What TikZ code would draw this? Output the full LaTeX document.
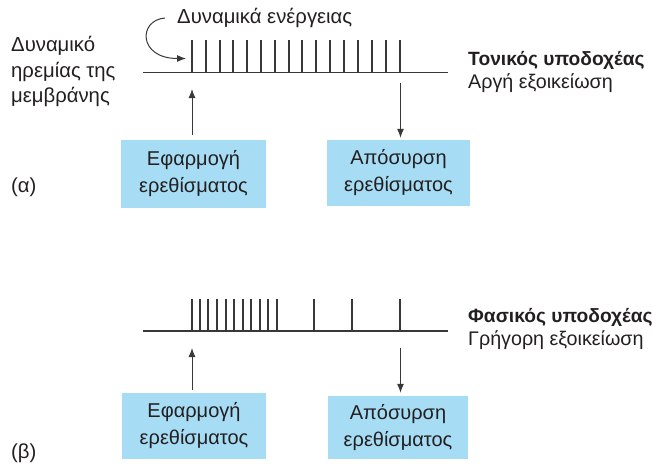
\documentclass[tikz,border=0pt]{standalone}
\usepackage{fontspec}
\setmainfont{Liberation Sans}
\usetikzlibrary{arrows.meta}
\definecolor{ink}{HTML}{231F20}
\definecolor{boxblue}{HTML}{A6DCF4}
\definecolor{linegray}{HTML}{383838}
\newcommand{\boldlab}[1]{{\fontsize{19.2}{22.5}\selectfont\bfseries #1}}
\begin{document}
\begin{tikzpicture}[x=1pt,y=-1pt,
  every node/.style={text=ink, inner sep=0pt},
  txt/.style={font=\fontsize{20.3}{25.5}\selectfont, align=left, anchor=west},
  rlab/.style={font=\fontsize{19.7}{22.5}\selectfont, align=left, anchor=west},
  stimbox/.style={fill=boxblue, draw=none, align=center, minimum width=145pt, minimum height=68pt,
                  font=\fontsize{20}{27}\selectfont},
  arr/.style={draw=linegray, line width=1pt, -{Latex[length=9pt,width=7pt]}},
  spike/.style={draw=linegray, line width=1.8pt},
  baseln/.style={draw=linegray, line width=1.5pt}]
\useasboundingbox (0,0) rectangle (652,463);

% ---------- (a) ----------
\node[txt] (rest) at (11,71.5) {Δυναμικό\\ηρεμίας της\\μεμβράνης};
\node[txt] (ap) at (177,18) {Δυναμικά ενέργειας};
\node[txt] (alpha) at (11,187) {(α)};
\node[rlab] (tonic) at (468,72) {\boldlab{Τονικός υποδοχέας}\\Αργή εξοικείωση};

\coordinate (lineAL) at (143,72.5);
\coordinate (lineAR) at (448,72.5);
\draw[baseln] (lineAL) -- (lineAR);
\foreach \x in {192,206,220,233,247,261,275,289,302,316,330,344,358,372,386,400} {
  \draw[spike] (\x,72.5) -- (\x,40);
}
\coordinate (firstSpike) at (186,58.5);
\draw[arr] (ap.west) ++(-12,0) coordinate (apStart)
  .. controls (138,20) and (138,58.5) .. (firstSpike);

\node[stimbox, minimum width=145pt, minimum height=68pt] (applyA) at (193.5,174) {Εφαρμογή\\ερεθίσματος};
\node[stimbox, minimum width=143pt, minimum height=66pt] (removeA) at (398.5,173) {Απόσυρση\\ερεθίσματος};

\coordinate (aTipA) at (192,89);
\coordinate (rTopA) at (400.5,83);
\draw[arr, shorten <=5pt] (applyA.north -| aTipA) -- (aTipA);
\draw[arr, shorten >=2pt] (rTopA) -- (removeA.north -| rTopA);

% ---------- (b) ----------
\node[txt] (beta) at (11,453) {(β)};
\node[rlab] (phasic) at (468,329) {\boldlab{Φασικός υποδοχέας}\\Γρήγορη εξοικείωση};

\coordinate (lineBL) at (143,331);
\coordinate (lineBR) at (448,331);
\draw[baseln] (lineBL) -- (lineBR);
\foreach \x in {192,200,208,217,226,234,243,251,260,268,277,314,352,400} {
  \draw[spike] (\x,331) -- (\x,299);
}

\node[stimbox, minimum width=144pt, minimum height=66pt] (applyB) at (194,426) {Εφαρμογή\\ερεθίσματος};
\node[stimbox, minimum width=140pt, minimum height=63pt] (removeB) at (398,427.5) {Απόσυρση\\ερεθίσματος};

\coordinate (aTipB) at (192,348);
\coordinate (rTopB) at (400.5,348);
\draw[arr, shorten <=3pt] (applyB.north -| aTipB) -- (aTipB);
\draw[arr, shorten >=3pt] (rTopB) -- (removeB.north -| rTopB);
\end{tikzpicture}
\end{document}
